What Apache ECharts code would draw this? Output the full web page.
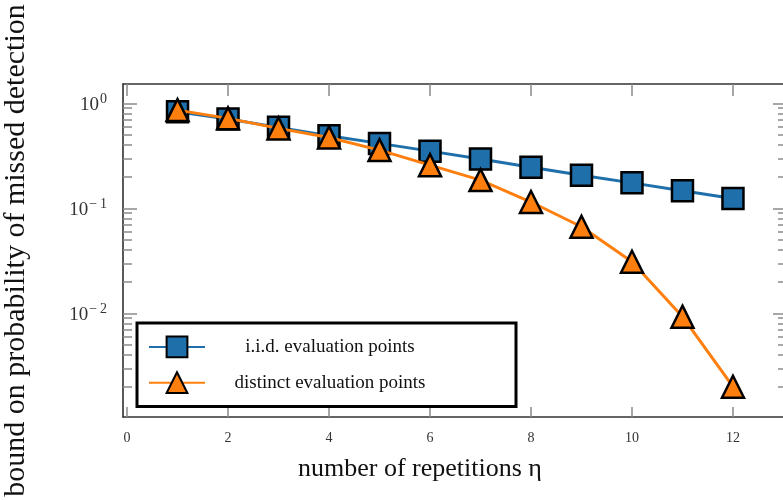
<!DOCTYPE html>
<html>
<head>
<meta charset="utf-8">
<script src="https://cdn.jsdelivr.net/npm/echarts@6/dist/echarts.min.js"></script>
<style>html,body{margin:0;padding:0;background:#fff}#c{width:783px;height:500px}</style>
</head>
<body>
<div id="c"></div>
<script>
// ---- data ----
var eta = [1, 2, 3, 4, 5, 6, 7, 8, 9, 10, 11, 12];
var iidValues = [0.832, 0.709, 0.591, 0.491, 0.416, 0.351, 0.295, 0.247, 0.207, 0.175, 0.147, 0.124];
var distinctValues = [0.863, 0.720, 0.578, 0.474, 0.359, 0.258, 0.186, 0.115, 0.0668, 0.031, 0.0093, 0.0020];
var seriesNames = ['i.i.d. evaluation points', 'distinct evaluation points'];
var xTickLabels = [0, 2, 4, 6, 8, 10, 12];
var yDecadeExponents = [-2, -1, 0];
var xTitle = 'number of repetitions η';
var yTitle = 'bound on probability of missed detection';

// ---- axis extents ----
var yMin = 0.00103, yMax = 1.53;
var xMin = -0.08, xMax = 13.07;
var lMin = Math.log10(yMin), lMax = Math.log10(yMax);

var minorLog = [];
for (var n = -3; n <= 0; n++) {
  for (var k = 2; k <= 9; k++) {
    var v = Math.log10(k) + n;
    if (v > lMin && v < lMax) minorLog.push(v);
  }
}

var serif = '"Liberation Serif", "DejaVu Serif", serif';
var tickGray = '#8a8a8a';
var blue = '#1f6fab', orange = '#ff7f0e';

function pair(a, b) { return a.map(function (x, i) { return [x, b[i]]; }); }

function decoAxis(pos, values, len, showLabel) {
  return {
    type: 'value', position: pos, min: lMin, max: lMax,
    axisLine: { show: false, onZero: false },
    splitLine: { show: false },
    axisTick: { show: true, inside: true, length: len, customValues: values,
      lineStyle: { color: tickGray, width: 1.5 } },
    axisLabel: showLabel ? {
      show: true, customValues: values, margin: 16,
      formatter: function (val) {
        var e = Math.round(val);
        return '{b|10}{s|' + (e < 0 ? '\u2212\u2009' + (-e) : e) + '}';
      },
      rich: {
        b: { fontFamily: serif, fontSize: 19, color: '#333', padding: [4, 0, 0, 0] },
        s: { fontFamily: serif, fontSize: 14, color: '#333', padding: [0, 0, 8, 1] }
      }
    } : { show: false }
  };
}

var chart = echarts.init(document.getElementById('c'));
chart.setOption({
  animation: false,
  backgroundColor: '#fff',
  grid: { left: 123, top: 84, right: -4, bottom: 83, containLabel: false, outerBoundsMode: 'none' },
  xAxis: [
    {
      type: 'value', position: 'bottom', min: xMin, max: xMax,
      name: xTitle, nameLocation: 'middle', nameGap: 39,
      nameTextStyle: { fontFamily: serif, fontSize: 26, color: '#111', padding: [0, 70, 0, 0] },
      axisLine: { show: true, onZero: false, lineStyle: { color: '#333', width: 1.5 } },
      splitLine: { show: false },
      axisTick: { show: true, inside: true, length: 10, customValues: xTickLabels,
        lineStyle: { color: tickGray, width: 1.5 } },
      axisLabel: { show: true, customValues: xTickLabels, margin: 14,
        fontFamily: serif, fontSize: 14, color: '#333' }
    },
    {
      type: 'value', position: 'top', min: xMin, max: xMax,
      axisLine: { show: true, onZero: false, lineStyle: { color: '#333', width: 1.5 } },
      splitLine: { show: false },
      axisTick: { show: true, inside: true, length: 12, customValues: xTickLabels,
        lineStyle: { color: tickGray, width: 1.5 } },
      axisLabel: { show: false }
    }
  ],
  yAxis: [
    {
      type: 'log', position: 'left', min: yMin, max: yMax,
      name: yTitle, nameLocation: 'middle', nameGap: 92, nameRotate: 90,
      nameTextStyle: { fontFamily: serif, fontSize: 30, color: '#111' },
      axisLine: { show: true, onZero: false, lineStyle: { color: '#222', width: 1.5 } },
      axisTick: { show: false }, axisLabel: { show: false }, splitLine: { show: false },
      minorTick: { show: false }, minorSplitLine: { show: false }
    },
    decoAxis('left', yDecadeExponents, 14, true),
    decoAxis('left', minorLog, 9, false),
    {
      type: 'log', position: 'right', min: yMin, max: yMax,
      axisLine: { show: true, onZero: false, lineStyle: { color: '#222', width: 1.5 } },
      axisTick: { show: false }, axisLabel: { show: false }, splitLine: { show: false }
    },
    decoAxis('right', yDecadeExponents, 14, false),
    decoAxis('right', minorLog, 9, false)
  ],
  legend: {
    left: 137, top: 323, orient: 'vertical',
    backgroundColor: '#fff', borderColor: '#000', borderWidth: 3, borderRadius: 0,
    padding: [12.5, 66, 12.5, 11],
    itemWidth: 56, itemHeight: 26, itemGap: 13,
    selectedMode: false,
    data: seriesNames,
    formatter: function (name) { return '{t|' + name + '}'; },
    textStyle: {
      rich: { t: { fontFamily: serif, fontSize: 19, color: '#111', width: 240, align: 'center', lineHeight: 26 } }
    }
  },
  series: [
    {
      name: seriesNames[0], type: 'line', xAxisIndex: 0, yAxisIndex: 0,
      data: pair(eta, iidValues),
      symbol: 'rect', symbolSize: 21,
      lineStyle: { color: blue, width: 3 },
      itemStyle: { color: blue, borderColor: '#000', borderWidth: 2.5 },
      z: 3
    },
    {
      name: seriesNames[1], type: 'line', xAxisIndex: 0, yAxisIndex: 0,
      data: pair(eta, distinctValues),
      symbol: 'triangle', symbolSize: 22,
      lineStyle: { color: orange, width: 3 },
      itemStyle: { color: orange, borderColor: '#000', borderWidth: 2.5 },
      z: 4
    }
  ]
});
</script>
</body>
</html>
